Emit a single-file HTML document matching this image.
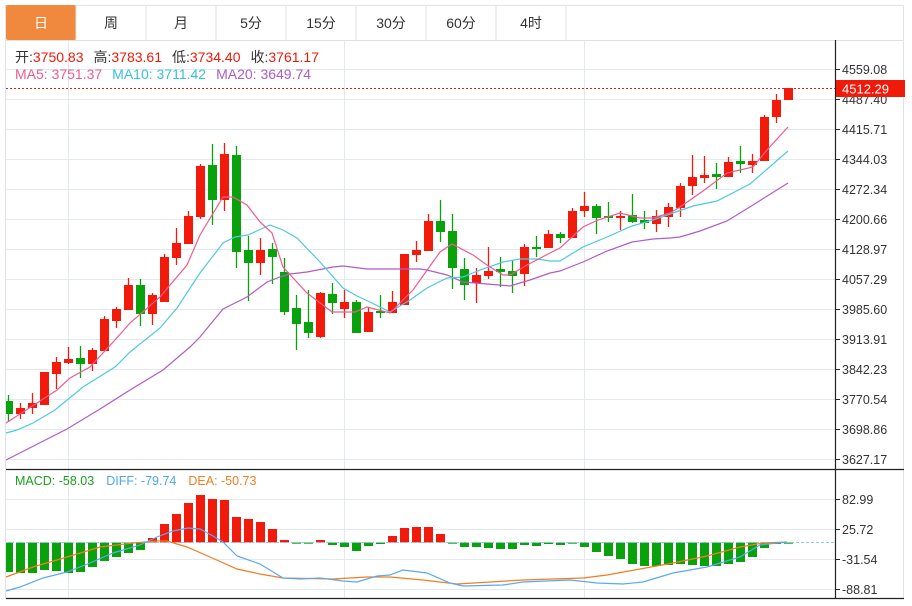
<!DOCTYPE html>
<html><head><meta charset="utf-8"><style>
body{margin:0;background:#fff;width:912px;height:601px;overflow:hidden;font-family:"Liberation Sans","Noto Sans CJK SC",sans-serif}
</style></head><body>
<svg width="912" height="601" xmlns="http://www.w3.org/2000/svg" font-family="Liberation Sans, Noto Sans CJK SC, sans-serif">
<rect x="0" y="0" width="912" height="601" fill="#fff"/>
<rect x="5.5" y="5.5" width="898" height="593" fill="none" stroke="#e0e4ea"/>
<g font-size="14" fill="#333" text-anchor="middle">
<rect x="6" y="5" width="70" height="35" fill="#f0883e" rx="2"/>
<text x="41" y="28" fill="#fff">日</text>
<g stroke="#dde2e8"><line x1="76" y1="5" x2="76" y2="40"/><line x1="146" y1="5" x2="146" y2="40"/><line x1="216" y1="5" x2="216" y2="40"/><line x1="286" y1="5" x2="286" y2="40"/><line x1="356" y1="5" x2="356" y2="40"/><line x1="426" y1="5" x2="426" y2="40"/><line x1="496" y1="5" x2="496" y2="40"/><line x1="566" y1="5" x2="566" y2="40"/><line x1="6" y1="40.5" x2="903" y2="40.5"/></g>
<text x="111" y="28">周</text><text x="181" y="28">月</text><text x="251" y="28">5分</text><text x="321" y="28">15分</text><text x="391" y="28">30分</text><text x="461" y="28">60分</text><text x="531" y="28">4时</text>
</g>
<g stroke="#e3e9f0" stroke-width="1">
<line x1="6" y1="69.5" x2="835" y2="69.5"/><line x1="6" y1="99.5" x2="835" y2="99.5"/><line x1="6" y1="129.5" x2="835" y2="129.5"/><line x1="6" y1="159.5" x2="835" y2="159.5"/><line x1="6" y1="189.5" x2="835" y2="189.5"/><line x1="6" y1="219.5" x2="835" y2="219.5"/><line x1="6" y1="249.5" x2="835" y2="249.5"/><line x1="6" y1="279.5" x2="835" y2="279.5"/><line x1="6" y1="309.5" x2="835" y2="309.5"/><line x1="6" y1="339.5" x2="835" y2="339.5"/><line x1="6" y1="369.5" x2="835" y2="369.5"/><line x1="6" y1="399.5" x2="835" y2="399.5"/><line x1="6" y1="429.5" x2="835" y2="429.5"/><line x1="6" y1="459.5" x2="835" y2="459.5"/>
<line x1="6" y1="499.5" x2="835" y2="499.5"/><line x1="6" y1="529.5" x2="835" y2="529.5"/><line x1="6" y1="559.5" x2="835" y2="559.5"/><line x1="6" y1="589.5" x2="835" y2="589.5"/>
<line x1="68.5" y1="41" x2="68.5" y2="598"/><line x1="344.5" y1="41" x2="344.5" y2="598"/><line x1="584.5" y1="41" x2="584.5" y2="598"/>
</g>
<g stroke="#222" stroke-width="1.2">
<line x1="835.5" y1="40" x2="835.5" y2="599"/>
<line x1="6" y1="469.5" x2="904" y2="469.5"/>
<line x1="6" y1="598.5" x2="904" y2="598.5"/>
</g>
<g stroke="#222">
<line x1="835" y1="69.5" x2="840" y2="69.5"/><line x1="835" y1="99.5" x2="840" y2="99.5"/><line x1="835" y1="129.5" x2="840" y2="129.5"/><line x1="835" y1="159.5" x2="840" y2="159.5"/><line x1="835" y1="189.5" x2="840" y2="189.5"/><line x1="835" y1="219.5" x2="840" y2="219.5"/><line x1="835" y1="249.5" x2="840" y2="249.5"/><line x1="835" y1="279.5" x2="840" y2="279.5"/><line x1="835" y1="309.5" x2="840" y2="309.5"/><line x1="835" y1="339.5" x2="840" y2="339.5"/><line x1="835" y1="369.5" x2="840" y2="369.5"/><line x1="835" y1="399.5" x2="840" y2="399.5"/><line x1="835" y1="429.5" x2="840" y2="429.5"/><line x1="835" y1="459.5" x2="840" y2="459.5"/>
<line x1="835" y1="499.5" x2="840" y2="499.5"/><line x1="835" y1="529.5" x2="840" y2="529.5"/><line x1="835" y1="559.5" x2="840" y2="559.5"/><line x1="835" y1="589.5" x2="840" y2="589.5"/>
</g>
<g font-size="12.5" fill="#333">
<text x="842" y="74">4559.08</text><text x="842" y="104">4487.40</text><text x="842" y="134">4415.71</text><text x="842" y="164">4344.03</text><text x="842" y="194">4272.34</text><text x="842" y="224">4200.66</text><text x="842" y="254">4128.97</text><text x="842" y="284">4057.29</text><text x="842" y="314">3985.60</text><text x="842" y="344">3913.91</text><text x="842" y="374">3842.23</text><text x="842" y="404">3770.54</text><text x="842" y="434">3698.86</text><text x="842" y="464">3627.17</text>
<text x="842" y="504">82.99</text><text x="842" y="534">25.72</text><text x="842" y="564">-31.54</text><text x="842" y="594">-88.81</text>
</g>
<line x1="6" y1="88.5" x2="835" y2="88.5" stroke="#f01a0a" stroke-dasharray="2,2"/>
<rect x="836" y="80" width="69" height="17" fill="#f01a0a"/>
<text x="842" y="93.5" font-size="13" fill="#fff">4512.29</text>
<g font-size="14">
<text x="15" y="62" fill="#333">开:<tspan fill="#f01a0a">3750.83</tspan><tspan dx="10">高:</tspan><tspan fill="#f01a0a">3783.61</tspan><tspan dx="10">低:</tspan><tspan fill="#f01a0a">3734.40</tspan><tspan dx="10">收:</tspan><tspan fill="#f01a0a">3761.17</tspan></text>
<text x="15" y="79" fill="#ee5c8e">MA5: 3751.37<tspan dx="10" fill="#35c2dc">MA10: 3711.42</tspan><tspan dx="10" fill="#ad5cc8">MA20: 3649.74</tspan></text>
</g>
<text x="15" y="485" font-size="12.5" fill="#1aa01c">MACD: -58.03<tspan dx="12" fill="#4da6f0">DIFF: -79.74</tspan><tspan dx="12" fill="#f57c20">DEA: -50.73</tspan></text>
<g id="candles"></g>
<g id="macd"></g>
<polyline fill="none" stroke="#b05cc8" stroke-width="1.2" points="6,460 67,429 100,409 130,390 163,370 190,347 200,337 223,309 247,297 267,282 280,277 290,274 307,272 333,267 343,266 367,269 420,269 427,270 447,275 463,282 487,284 510,286 530,280 550,273 560,271 583,262 607,251 632,242 653,239 670,238 680,237 700,231 727,221 753,205 788,183"/>
<polyline fill="none" stroke="#4dc9e0" stroke-width="1.2" points="6,433 17,430 33,423 55,410 83,387 115,367 130,352 160,328 177,308 200,273 223,243 235,237 248,235 270,225 283,230 297,238 320,262 343,288 357,296 370,302 390,312 410,300 427,288 447,278 463,277 480,270 503,262 520,259 537,259 550,261 560,261 583,247 607,237 632,226 653,220 673,213 693,206 717,201 750,184 788,151"/>
<polyline fill="none" stroke="#ee5c8e" stroke-width="1.2" points="6,423 37,403 57,390 70,378 90,367 115,340 130,323 160,297 187,265 200,235 223,197 233,197 247,205 260,222 272,233 283,267 307,293 332,312 355,312 367,307 390,313 413,290 440,252 452,244 473,255 487,265 503,275 510,275 527,265 550,253 560,248 583,227 598,220 620,213 640,218 653,218 670,213 680,207 703,191 727,173 753,167 767,150 788,127"/>
<line x1="6" y1="542.5" x2="835" y2="542.5" stroke="#8fcbe8" stroke-dasharray="3,2"/>
<polyline fill="none" stroke="#f57c20" stroke-width="1.2" points="6,577 33,567 67,557 100,547 133,543 157,541 167,541 187,547 210,557 237,569 260,574 283,578 333,579 367,577 390,577 423,580 457,584 490,582 523,580 583,578 607,575 640,569 673,563 707,556 740,547 763,543 787,542"/>
<polyline fill="none" stroke="#5aa9f0" stroke-width="1.2" points="6,591 20,587 43,578 67,572 90,563 113,553 140,545 157,537 173,531 188,528 200,529 213,536 223,542 237,556 260,564 283,578 300,579 320,578 343,581 357,582 377,576 390,575 403,570 427,573 450,583 463,586 503,585 523,582 570,580 597,583 623,584 643,582 673,573 707,567 740,557 760,545 777,543 787,542"/>
</svg>
<script>
var R="#f21a0a",G="#09a20c";
var C=[[401,414,395,422,G],[408,414,403,419,R],[403,408,393,414,R],[372,405,372,405,R],[362,374,357,389,R],[359,363,347,364,R],[358,364,346,378,G],[350,364,348,371,R],[319,351,316,351,R],[309,321,307,328,R],[285,310,278,310,R],[285,314,279,326,G],[295,314,293,325,R],[257,302,254,302,R],[243,258,228,265,R],[216,244,211,244,R],[166,217,164,219,R],[165,200,144,225,G],[154,200,143,211,R],[155,252,146,268,G],[250,263,236,301,G],[250,263,238,275,R],[249,257,243,284,G],[272,312,258,315,G],[308,324,295,350,G],[322,333,290,338,G],[293,337,292,338,R],[294,303,283,314,G],[302,309,290,318,R],[302,333,300,333,G],[312,332,307,332,R],[311,313,295,318,G],[302,313,291,313,R],[254,305,254,305,R],[250,255,241,262,R],[221,251,214,251,R],[221,232,200,242,G],[231,268,214,289,G],[269,285,258,300,G],[275,283,268,303,R],[271,276,247,279,R],[269,272,257,287,G],[271,276,261,293,G],[247,274,244,286,R],[247,249,236,257,G],[234,248,230,248,R],[234,238,232,243,G],[211,238,208,238,R],[206,211,192,217,R],[206,218,204,234,G],[216,218,202,222,G],[216,218,211,230,R],[215,222,194,223,G],[220,223,211,229,G],[216,224,210,232,R],[207,217,203,227,R],[186,208,183,217,R],[177,186,155,195,R],[175,178,156,183,R],[174,177,163,189,G],[162,177,157,177,R],[161,164,146,173,G],[161,165,154,173,R],[117,161,115,161,R],[100,117,94,123,R],[88,100,88,100,R]];
var M=[572,573,573,570,571,573,572,567,561,557,553,550,538,524,514,503,495,499,500,517,519,522,529,540,543.5,543.5,540,545,547,551,546,544,536,528,527,527,534,543.5,547,547,548,549,549,545,546,544,545,543.5,547,552,556,559,564,566,566,565,564,565,566,566,564,562,557,548,544,543];
var s="";
C.forEach(function(c,i){var x=8.5+12*i;var t=Math.min(c[0],c[1]),h=Math.max(Math.abs(c[1]-c[0]),1.5);
s+='<line x1="'+x+'" y1="'+c[2]+'" x2="'+x+'" y2="'+c[3]+'" stroke="'+c[4]+'" stroke-width="1.3"/>';
var l=Math.max(x-4.5,6);s+='<rect x="'+l+'" y="'+t+'" width="'+(x+4.5-l)+'" height="'+h+'" fill="'+c[4]+'"/>';});
document.getElementById("candles").innerHTML=s;
s="";var z=542.5;
M.forEach(function(v,i){var x=8.5+12*i;var l=Math.max(x-4.5,6);var col=v<z?R:G;var t=Math.min(v,z),h=Math.max(Math.abs(v-z),1.2);
s+='<rect x="'+l+'" y="'+t+'" width="'+(x+4.5-l)+'" height="'+h+'" fill="'+col+'"/>';});
document.getElementById("macd").innerHTML=s;
</script>
</body></html>
